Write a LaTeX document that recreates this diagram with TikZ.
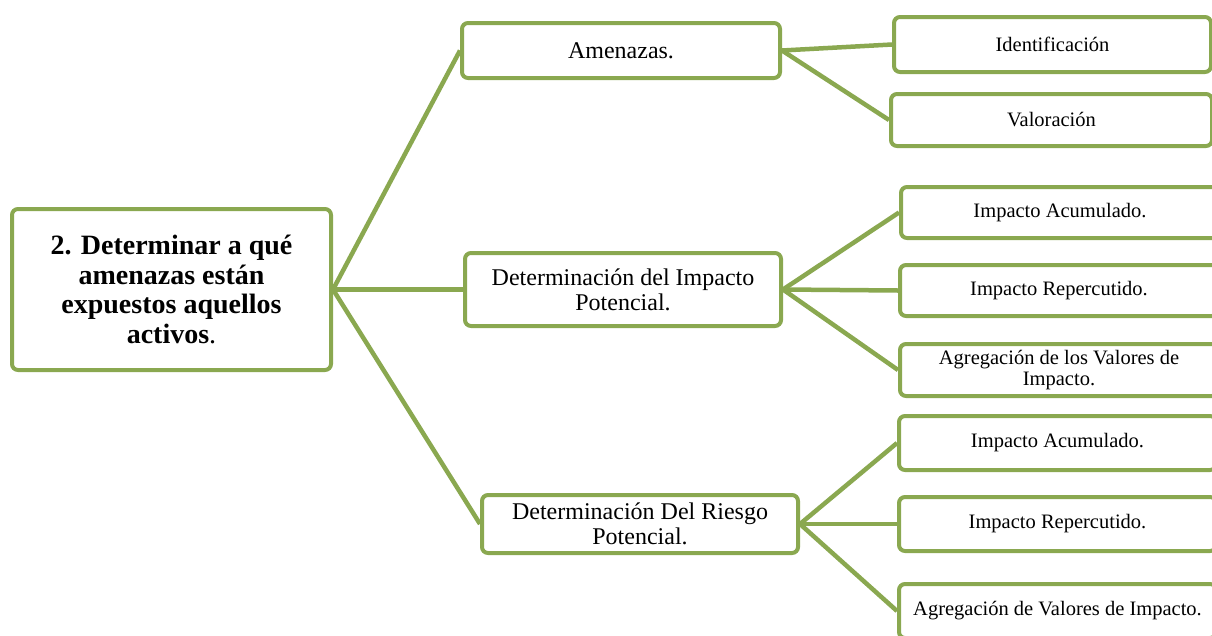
\documentclass[tikz,border=0pt]{standalone}
\usepackage{fontspec}
\setmainfont{Liberation Serif}
\usetikzlibrary{backgrounds}
\definecolor{leaf}{RGB}{138,168,80}
\tikzset{
  box/.style={draw=leaf, line width=4pt, rounded corners=6pt, fill=white,
    align=center, inner sep=0pt, text=black},
  link/.style={draw=leaf, line width=4.5pt},
  root/.style={box, font=\fontsize{28}{29.5}\selectfont\bfseries},
  mid/.style={box, font=\fontsize{24}{25}\selectfont},
  leafbox/.style={box, font=\fontsize{20.5}{21}\selectfont},
}
\begin{document}
\begin{tikzpicture}[x=1pt, y=-1pt]
\useasboundingbox (0,0) rectangle (1212,635);
\clip (0,0) rectangle (1212,635);

% main topic
\node[root, minimum width=319pt, minimum height=161pt] (root) at (171.5,289.5)
  {2. Determinar a qué\\amenazas están\\expuestos aquellos\\activos{\mdseries .}};

% second level
\node[mid, minimum width=318pt, minimum height=55pt] (amen) at (621,50.5) {Amenazas.};
\node[mid, minimum width=316pt, minimum height=73pt] (dip) at (623,289.5)
  {Determinación del Impacto\\Potencial.};
\node[mid, minimum width=316pt, minimum height=58pt] (drp) at (640,524)
  {Determinación Del Riesgo\\Potencial.};

% third level
\node[leafbox, minimum width=317pt, minimum height=55pt] (ident) at (1052.5,44.5) {Identificación};
\node[leafbox, minimum width=321pt, minimum height=52pt] (valor) at (1051.5,120) {Valoración};
\node[leafbox, minimum width=318pt, minimum height=51pt] (ia1) at (1060,212.5) {Impacto Acumulado.};
\node[leafbox, minimum width=318pt, minimum height=51pt] (ir1) at (1059,290.5) {Impacto Repercutido.};
\node[leafbox, minimum width=318pt, minimum height=52pt] (ag1) at (1059,370)
  {Agregación de los Valores de\\Impacto.};
\node[leafbox, minimum width=317pt, minimum height=54pt] (ia2) at (1057.5,443) {Impacto Acumulado.};
\node[leafbox, minimum width=317pt, minimum height=54pt] (ir2) at (1057.5,524) {Impacto Repercutido.};
\node[leafbox, minimum width=317pt, minimum height=54pt] (ag2) at (1057.5,611) {Agregación de Valores de Impacto.};

% connectors, behind the boxes
\begin{pgfonlayer}{background}
\draw[link] (root.east) -- (amen.west);
\draw[link] (root.east) -- (dip.west);
\draw[link] (root.east) -- (drp.west);
\draw[link] (amen.east) -- (ident.west);
\draw[link] (amen.east) -- (valor.west);
\draw[link] (dip.east) -- (ia1.west);
\draw[link] (dip.east) -- (ir1.west);
\draw[link] (dip.east) -- (ag1.west);
\draw[link] (drp.east) -- (ia2.west);
\draw[link] (drp.east) -- (ir2.west);
\draw[link] (drp.east) -- (ag2.west);
\end{pgfonlayer}
\end{tikzpicture}
\end{document}
